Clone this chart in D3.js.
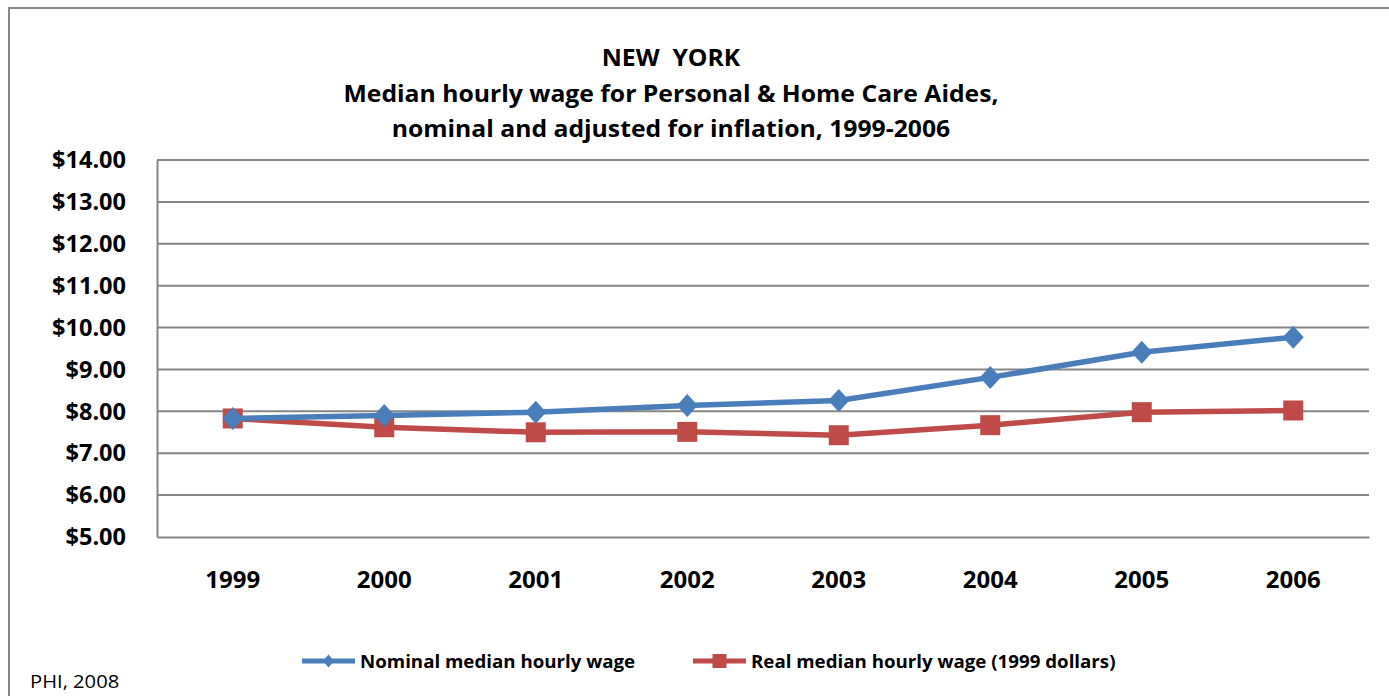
<!DOCTYPE html>
<html>
<head>
<meta charset="utf-8">
<script src="https://cdn.jsdelivr.net/npm/d3@7"></script>
<style>
  html, body { margin: 0; padding: 0; background: #fff; }
  svg { display: block; }
  text { font-family: "Open Sans", "Liberation Sans", sans-serif; white-space: pre; }
</style>
</head>
<body>
<svg id="chart" width="1389" height="696"></svg>
<script>
// Median hourly wage, New York, Personal & Home Care Aides
const years = ["1999", "2000", "2001", "2002", "2003", "2004", "2005", "2006"];
const nominalWage = [7.83, 7.90, 7.98, 8.14, 8.26, 8.81, 9.41, 9.77];
const realWage = [7.83, 7.62, 7.50, 7.51, 7.43, 7.67, 7.98, 8.02];
const yTicks = [5, 6, 7, 8, 9, 10, 11, 12, 13, 14];
const titleLines = [
  "NEW  YORK",
  "Median hourly wage for Personal & Home Care Aides,",
  "nominal and adjusted for inflation, 1999-2006"
];
const seriesNames = ["Nominal median hourly wage", "Real median hourly wage (1999 dollars)"];

const svg = d3.select("#chart");
const margin = { left: 157, top: 160 };
const W = 1389, H = 696;
const plotW = 1369 - margin.left;
const plotH = 537 - margin.top;

const blue = "#4a7ebb", red = "#be4b48", grid = "#868686";
const FONT = "\"Open Sans\", \"Liberation Sans\", sans-serif";

// scale glyphs horizontally by a factor, keeping the anchor
function stretch(sel, k) {
  sel.each(function () {
    const len = this.getComputedTextLength();
    d3.select(this).attr("textLength", len * k).attr("lengthAdjust", "spacingAndGlyphs");
  });
}

// outer chart frame
svg.append("path")
  .attr("d", `M9,${H + 2} L9,8 L${W + 2},8`)
  .attr("fill", "none").attr("stroke", grid).attr("stroke-width", 2);

// title
const title = svg.append("g").selectAll("text").data(titleLines).join("text")
  .attr("x", 671).attr("y", (d, i) => 66 + i * 35.5)
  .attr("text-anchor", "middle")
  .attr("font-size", 24).attr("font-weight", "bold").attr("fill", "#000")
  .text(d => d);
stretch(title, 1.03);

const g = svg.append("g").attr("transform", `translate(${margin.left},${margin.top})`);

const x = d3.scaleBand().domain(years).range([0, plotW]);
const y = d3.scaleLinear().domain([5, 14]).range([plotH, 0]);

// horizontal gridlines
g.append("g").selectAll("line").data(yTicks.filter(t => t > 5)).join("line")
  .attr("x1", 0).attr("x2", plotW)
  .attr("y1", d => y(d)).attr("y2", d => y(d))
  .attr("stroke", grid).attr("stroke-width", 2);

// y axis
const yAxis = g.append("g")
  .call(d3.axisLeft(y).tickValues(yTicks).tickFormat(d => "$" + d3.format(".2f")(d)).tickSize(0).tickPadding(31));
yAxis.select(".domain").attr("stroke", grid).attr("stroke-width", 2);
yAxis.selectAll("text").attr("font-size", 24).attr("font-weight", "bold").attr("fill", "#000")
  .attr("font-family", FONT);
stretch(yAxis.selectAll("text"), 0.98);

// x axis
const xAxis = g.append("g").attr("transform", `translate(0,${plotH})`)
  .call(d3.axisBottom(x).tickSize(0).tickPadding(34));
xAxis.select(".domain").attr("stroke", grid).attr("stroke-width", 2);
xAxis.selectAll("text").attr("font-size", 24).attr("font-weight", "bold").attr("fill", "#000")
  .attr("font-family", FONT);
stretch(xAxis.selectAll("text"), 1.0);

const cx = d => x(d) + x.bandwidth() / 2;
const line = d3.line().x(d => cx(d[0])).y(d => y(d[1]));

// marker shapes: rotated-square diamond and plain square
const diamondPath = (w, h) => `M0,${-h}L${w},0L0,${h}L${-w},0Z`;
const squarePath = s => `M${-s},${-s}H${s}V${s}H${-s}Z`;

const series = [
  { name: seriesNames[0], values: nominalWage, color: blue, mark: diamondPath(10.5, 11.5), legendMark: diamondPath(5.5, 6.5) },
  { name: seriesNames[1], values: realWage, color: red, mark: squarePath(10), legendMark: squarePath(7) }
];

// draw real first so nominal sits on top
series.slice().reverse().forEach(s => {
  const pts = years.map((yr, i) => [yr, s.values[i]]);
  g.append("path").datum(pts)
    .attr("d", line).attr("fill", "none")
    .attr("stroke", s.color).attr("stroke-width", 5.5).attr("stroke-linejoin", "round");
  g.append("g").selectAll("path").data(pts).join("path")
    .attr("transform", d => `translate(${cx(d[0])},${y(d[1])})`)
    .attr("d", s.mark).attr("fill", s.color);
});

// legend
const legendPos = [302, 693];
series.forEach((s, i) => {
  const lg = svg.append("g").attr("transform", `translate(${legendPos[i]},661)`);
  lg.append("line").attr("x1", 0).attr("x2", 53).attr("y1", 0).attr("y2", 0)
    .attr("stroke", s.color).attr("stroke-width", 5);
  lg.append("path").attr("transform", "translate(26.5,0)")
    .attr("d", s.legendMark).attr("fill", s.color);
  const t = lg.append("text").attr("x", 58).attr("y", 6.5)
    .attr("font-size", 17).attr("font-weight", "bold").attr("fill", "#000")
    .text(s.name);
  stretch(t, 1.1);
});

// source note
const note = svg.append("text").attr("x", 30).attr("y", 688)
  .attr("font-size", 18.5).attr("fill", "#000").text("PHI, 2008");
stretch(note, 1.09);
</script>
</body>
</html>
